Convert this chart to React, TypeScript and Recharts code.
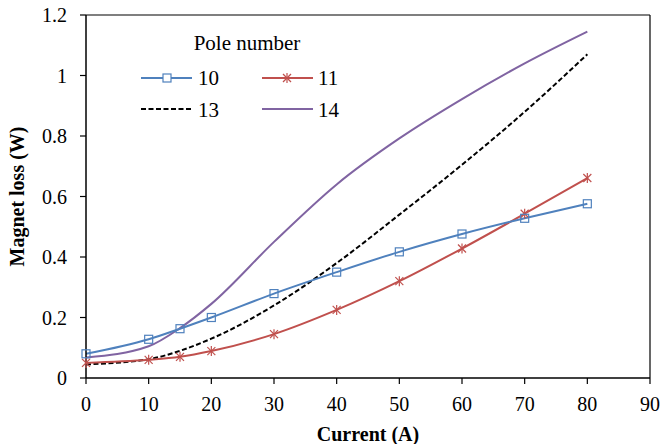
import React from "react";
import {
  LineChart,
  Line,
  XAxis,
  YAxis,
  ReferenceLine,
} from "recharts";

const currents = [0, 10, 15, 20, 30, 40, 50, 60, 70, 80];
const pole10 = [0.08, 0.128, 0.163, 0.2, 0.279, 0.35, 0.417, 0.476, 0.528, 0.576];
const pole11 = [0.05, 0.06, 0.07, 0.089, 0.145, 0.225, 0.32, 0.428, 0.543, 0.661];
const pole13 = [0.045, 0.062, 0.09, 0.13, 0.24, 0.38, 0.54, 0.705, 0.88, 1.07];
const pole14 = [0.068, 0.105, 0.165, 0.245, 0.45, 0.64, 0.792, 0.922, 1.04, 1.145];

const xTicks = [0, 10, 20, 30, 40, 50, 60, 70, 80, 90];
const yTicks = [0, 0.2, 0.4, 0.6, 0.8, 1, 1.2];

const BLUE = "#4F81BD";
const RED = "#C0504D";
const PURPLE = "#8064A2";
const FONT = "Liberation Serif";

const data = currents.map((c, i) => ({
  current: c,
  p10: pole10[i],
  p11: pole11[i],
  p13: pole13[i],
  p14: pole14[i],
}));

const SquareDot = (props: any) => {
  const { cx, cy } = props;
  if (cx == null || cy == null) return null;
  return <rect x={cx - 4} y={cy - 4} width={8} height={8} fill="none" stroke={BLUE} strokeWidth={1.2} />;
};

const StarDot = (props: any) => {
  const { cx, cy } = props;
  if (cx == null || cy == null) return null;
  const r = 4;
  return (
    <g stroke={RED} strokeWidth={1.2}>
      <line x1={cx - r} y1={cy - r} x2={cx + r} y2={cy + r} />
      <line x1={cx - r} y1={cy + r} x2={cx + r} y2={cy - r} />
      <line x1={cx} y1={cy - r - 1} x2={cx} y2={cy + r + 1} />
    </g>
  );
};

// legend drawn as an overlay so it does not take space from the plot
const PoleLegend = () => (
  <svg width={240} height={100} style={{ position: "absolute", left: 130, top: 25 }}>
    <text x={117} y={25} textAnchor="middle" fontSize={21} fontFamily={FONT} fill="#000">Pole number</text>
    <line x1={11} y1={53} x2={62} y2={53} stroke={BLUE} strokeWidth={2} />
    <rect x={33} y={49} width={8} height={8} fill="#fff" stroke={BLUE} strokeWidth={1.2} />
    <text x={68} y={60} fontSize={21} fontFamily={FONT} fill="#000">10</text>
    <line x1={132} y1={53} x2={183} y2={53} stroke={RED} strokeWidth={2} />
    <g stroke={RED} strokeWidth={1.2}>
      <line x1={153} y1={49} x2={161} y2={57} />
      <line x1={153} y1={57} x2={161} y2={49} />
      <line x1={157} y1={48} x2={157} y2={58} />
    </g>
    <text x={188} y={60} fontSize={21} fontFamily={FONT} fill="#000">11</text>
    <line x1={11} y1={84} x2={62} y2={84} stroke="#000" strokeWidth={2} strokeDasharray="5 2.5" />
    <text x={68} y={92} fontSize={21} fontFamily={FONT} fill="#000">13</text>
    <line x1={132} y1={84} x2={183} y2={84} stroke={PURPLE} strokeWidth={2} />
    <text x={188} y={92} fontSize={21} fontFamily={FONT} fill="#000">14</text>
  </svg>
);

export default function App() {
  const tickStyle = { fontFamily: FONT, fontSize: 20, fill: "#000" };
  const labelStyle = { fontFamily: FONT, fontSize: 20, fontWeight: "bold", fill: "#000" };
  return (
    <div style={{ position: "absolute", left: 0, top: 0, width: 663, height: 444, background: "#fff", fontFamily: FONT }}>
      <LineChart width={663} height={444} data={data} margin={{ top: 15, right: 13, left: 0, bottom: 0 }}>
        <XAxis
          dataKey="current"
          type="number"
          domain={[0, 90]}
          ticks={xTicks}
          height={66}
          tick={tickStyle}
          tickSize={6}
          tickMargin={13}
          axisLine={{ stroke: "#000", strokeWidth: 1.5 }}
          tickLine={{ stroke: "#000", strokeWidth: 1.2 }}
          label={{ value: "Current (A)", position: "insideBottom", offset: 3, style: labelStyle }}
        />
        <YAxis
          type="number"
          domain={[0, 1.2]}
          ticks={yTicks}
          width={86}
          tick={tickStyle}
          tickSize={6}
          tickMargin={13}
          tickFormatter={(v: number) => String(Math.round(v * 10) / 10)}
          axisLine={{ stroke: "#000", strokeWidth: 1.5 }}
          tickLine={{ stroke: "#000", strokeWidth: 1.2 }}
          label={{ value: "Magnet loss (W)", angle: -90, position: "insideLeft", offset: 17, style: { ...labelStyle, textAnchor: "middle" } }}
        />
        <ReferenceLine y={1.2} stroke="#000" strokeWidth={1.2} />
        <ReferenceLine x={90} stroke="#000" strokeWidth={1.2} />
        <Line type="monotone" dataKey="p14" stroke={PURPLE} strokeWidth={2} dot={false} isAnimationActive={false} />
        <Line type="monotone" dataKey="p13" stroke="#000" strokeWidth={2} strokeDasharray="5 2.5" dot={false} isAnimationActive={false} />
        <Line type="monotone" dataKey="p11" stroke={RED} strokeWidth={2} dot={<StarDot />} isAnimationActive={false} />
        <Line type="monotone" dataKey="p10" stroke={BLUE} strokeWidth={2} dot={<SquareDot />} isAnimationActive={false} />
      </LineChart>
      <PoleLegend />
    </div>
  );
}
